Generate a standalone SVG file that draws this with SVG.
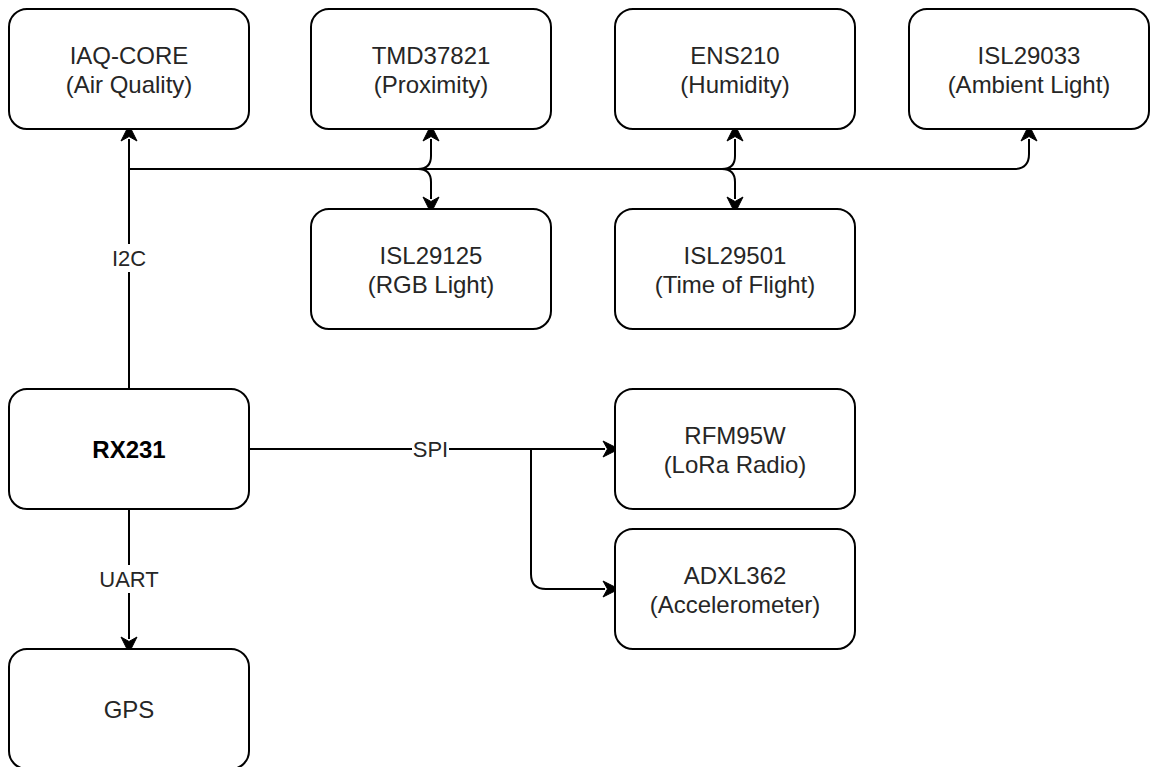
<svg xmlns="http://www.w3.org/2000/svg" width="1152" height="767" viewBox="0 0 1152 767">
<style>
.box{fill:#fff;stroke:#000;stroke-width:2}
.t{font-family:"Liberation Sans",Arial,Helvetica,sans-serif;font-size:24px;fill:#262626;text-anchor:middle}
.b{font-weight:bold;fill:#000}
.e{fill:none;stroke:#000;stroke-width:2}
.a{marker-end:url(#arr)}
.lbg{fill:#fff}
.lt{font-family:"Liberation Sans",Arial,Helvetica,sans-serif;font-size:22px;fill:#262626;text-anchor:middle}
</style>
<defs>
<marker id="arr" markerUnits="userSpaceOnUse" viewBox="-6 -9 18 18" refX="-4" refY="0" markerWidth="18" markerHeight="18" orient="auto" overflow="visible">
<path d="M10,0 L-6,-8 L-1.5,0 L-6,8 Z" fill="#000" stroke="#000" stroke-width="1"/>
</marker>
</defs>
<rect width="1152" height="767" fill="#fff"/>
<g id="connectors">
<path class="e a" d="M129,389 V139"/>
<path class="e a" d="M129,169 H418 Q431,169 431,156 V139"/>
<path class="e a" d="M418,169 Q431,169 431,182 V199"/>
<path class="e a" d="M129,169 H722 Q735,169 735,156 V139"/>
<path class="e a" d="M722,169 Q735,169 735,182 V199"/>
<path class="e a" d="M129,169 H1014 Q1029,169 1029,154 V139"/>
<path class="e a" d="M249,449 H605"/>
<path class="e a" d="M531,449 V574 Q531,589 546,589 H605"/>
<path class="e a" d="M129,509 V639"/>
<rect class="lbg" x="112" y="244" width="34" height="28"/>
<text class="lt" x="129" y="266">I2C</text>
<rect class="lbg" x="412" y="437" width="37" height="24"/>
<text class="lt" x="430.5" y="457">SPI</text>
<rect class="lbg" x="99" y="565" width="60" height="28"/>
<text class="lt" x="129" y="587">UART</text>
</g>
<g id="iaq-core"><rect class="box" x="9" y="9" width="240" height="120" rx="18"/><text class="t" x="129" y="64">IAQ-CORE</text><text class="t" x="129" y="93">(Air Quality)</text></g>
<g id="tmd37821"><rect class="box" x="311" y="9" width="240" height="120" rx="18"/><text class="t" x="431" y="64">TMD37821</text><text class="t" x="431" y="93">(Proximity)</text></g>
<g id="ens210"><rect class="box" x="615" y="9" width="240" height="120" rx="18"/><text class="t" x="735" y="64">ENS210</text><text class="t" x="735" y="93">(Humidity)</text></g>
<g id="isl29033"><rect class="box" x="909" y="9" width="240" height="120" rx="18"/><text class="t" x="1029" y="64">ISL29033</text><text class="t" x="1029" y="93">(Ambient Light)</text></g>
<g id="isl29125"><rect class="box" x="311" y="209" width="240" height="120" rx="18"/><text class="t" x="431" y="264">ISL29125</text><text class="t" x="431" y="293">(RGB Light)</text></g>
<g id="isl29501"><rect class="box" x="615" y="209" width="240" height="120" rx="18"/><text class="t" x="735" y="264">ISL29501</text><text class="t" x="735" y="293">(Time of Flight)</text></g>
<g id="rx231"><rect class="box" x="9" y="389" width="240" height="120" rx="18"/><text class="t b" x="129" y="458">RX231</text></g>
<g id="rfm95w"><rect class="box" x="615" y="389" width="240" height="120" rx="18"/><text class="t" x="735" y="444">RFM95W</text><text class="t" x="735" y="473">(LoRa Radio)</text></g>
<g id="adxl362"><rect class="box" x="615" y="529" width="240" height="120" rx="18"/><text class="t" x="735" y="584">ADXL362</text><text class="t" x="735" y="613">(Accelerometer)</text></g>
<g id="gps"><rect class="box" x="9" y="649" width="240" height="120" rx="18"/><text class="t" x="129" y="718">GPS</text></g>
</svg>
